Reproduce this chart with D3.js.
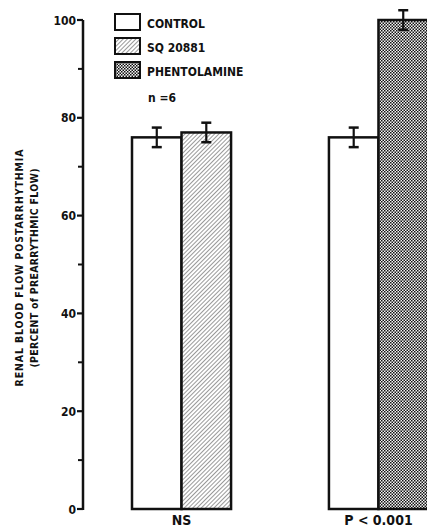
<!DOCTYPE html>
<html>
<head>
<meta charset="utf-8">
<script src="https://cdn.jsdelivr.net/npm/d3@7"></script>
<style>
  body { margin: 0; background: #fff; }
  text { font-family: "DejaVu Sans Condensed", "Liberation Sans Narrow", sans-serif; font-weight: bold; fill: #111; }
</style>
</head>
<body>
<svg id="chart" width="427" height="529"></svg>
<script>
// renal blood flow bar chart

var groups = ["NS", "P < 0.001"];
var series = ["CONTROL", "SQ 20881", "PHENTOLAMINE"];
var values = [[76, 77], [76, 100]];      // per group: control, drug
var errors = [[2, 2], [2, 2]];
var drugs = [[0, 1], [0, 2]];            // series index of each bar
var majorTicks = [0, 20, 40, 60, 80, 100];
var minorTicks = [10, 30, 50, 70, 90];

var svg = d3.select("#chart");

var defs = svg.append("defs");
var hatch = defs.append("pattern")
  .attr("id", "hatch")
  .attr("patternUnits", "userSpaceOnUse")
  .attr("width", 3).attr("height", 3)
  .attr("patternTransform", "rotate(45)");
hatch.append("rect").attr("width", 3).attr("height", 3).attr("fill", "#fff");
hatch.append("line").attr("x1", 0).attr("y1", 0).attr("x2", 0).attr("y2", 3)
  .attr("stroke", "#333").attr("stroke-width", 1);

var check = defs.append("pattern")
  .attr("id", "check")
  .attr("patternUnits", "userSpaceOnUse")
  .attr("width", 3).attr("height", 3);
check.append("rect").attr("width", 3).attr("height", 3).attr("fill", "#f4f4f4");
check.append("rect").attr("width", 1.5).attr("height", 1.5).attr("fill", "#111");
check.append("rect").attr("x", 1.5).attr("y", 1.5).attr("width", 1.5).attr("height", 1.5).attr("fill", "#111");

var fills = ["#fff", "url(#hatch)", "url(#check)"];

var y = d3.scaleLinear().domain([0, 100]).range([509, 20]);
var x = d3.scaleBand().domain(groups).range([132, 428]).paddingInner(0.497).paddingOuter(0);

// axis
var axisX = 83;
svg.append("line")
  .attr("x1", axisX).attr("x2", axisX)
  .attr("y1", y(100)).attr("y2", y(0) + 1)
  .attr("stroke", "#111").attr("stroke-width", 2.5);

svg.selectAll(".major").data(majorTicks).enter().append("line")
  .attr("x1", axisX - 6).attr("x2", axisX)
  .attr("y1", function(d) { return y(d); }).attr("y2", function(d) { return y(d); })
  .attr("stroke", "#111").attr("stroke-width", 2.2);

svg.selectAll(".minor").data(minorTicks).enter().append("line")
  .attr("x1", axisX - 5).attr("x2", axisX)
  .attr("y1", function(d) { return y(d); }).attr("y2", function(d) { return y(d); })
  .attr("stroke", "#111").attr("stroke-width", 2);

svg.selectAll(".ticklabel").data(majorTicks).enter().append("text")
  .attr("x", axisX - 7).attr("y", function(d) { return y(d) + 4.5; })
  .attr("text-anchor", "end").attr("font-size", 12)
  .text(function(d) { return d; });

// y label
var yl = svg.append("g").attr("transform", "translate(23,268) rotate(-90)");
yl.append("text").attr("text-anchor", "middle").attr("font-size", 10.5)
  .attr("textLength", 237).attr("lengthAdjust", "spacing")
  .text("RENAL BLOOD FLOW POSTARRHYTHMIA");
yl.append("text").attr("y", 15).attr("text-anchor", "middle").attr("font-size", 10.5)
  .attr("textLength", 199).attr("lengthAdjust", "spacing")
  .text("(PERCENT of PREARRYTHMIC FLOW)");

// bars
var bw = x.bandwidth() / 2;
groups.forEach(function(g, gi) {
  values[gi].forEach(function(v, bi) {
    var x0 = x(g) + bi * bw;
    svg.append("rect")
      .attr("x", x0).attr("y", y(v))
      .attr("width", bw).attr("height", y(0) - y(v))
      .attr("fill", fills[drugs[gi][bi]])
      .attr("stroke", "#111").attr("stroke-width", 2.5);
    var cx = x0 + bw / 2, e = errors[gi][bi];
    svg.append("line").attr("x1", cx).attr("x2", cx)
      .attr("y1", y(v + e)).attr("y2", y(v - e))
      .attr("stroke", "#111").attr("stroke-width", 2.2);
    [v + e, v - e].forEach(function(t) {
      svg.append("line").attr("x1", cx - 5).attr("x2", cx + 5)
        .attr("y1", y(t)).attr("y2", y(t))
        .attr("stroke", "#111").attr("stroke-width", 2.5);
    });
  });
  svg.append("text")
    .attr("x", x(g) + bw).attr("y", 525)
    .attr("text-anchor", "middle").attr("font-size", 14)
    .text(g);
});

// legend
var legend = svg.selectAll(".legend").data(series).enter().append("g")
  .attr("transform", function(d, i) { return "translate(115," + (14 + i * 24) + ")"; });
legend.append("rect")
  .attr("width", 25).attr("height", 16)
  .attr("fill", function(d, i) { return fills[i]; })
  .attr("stroke", "#111").attr("stroke-width", 2);
legend.append("text")
  .attr("x", 32).attr("y", 14).attr("font-size", 12)
  .text(function(d) { return d; });

svg.append("text").attr("x", 148).attr("y", 102).attr("font-size", 12).text("n =6");
</script>
</body>
</html>
